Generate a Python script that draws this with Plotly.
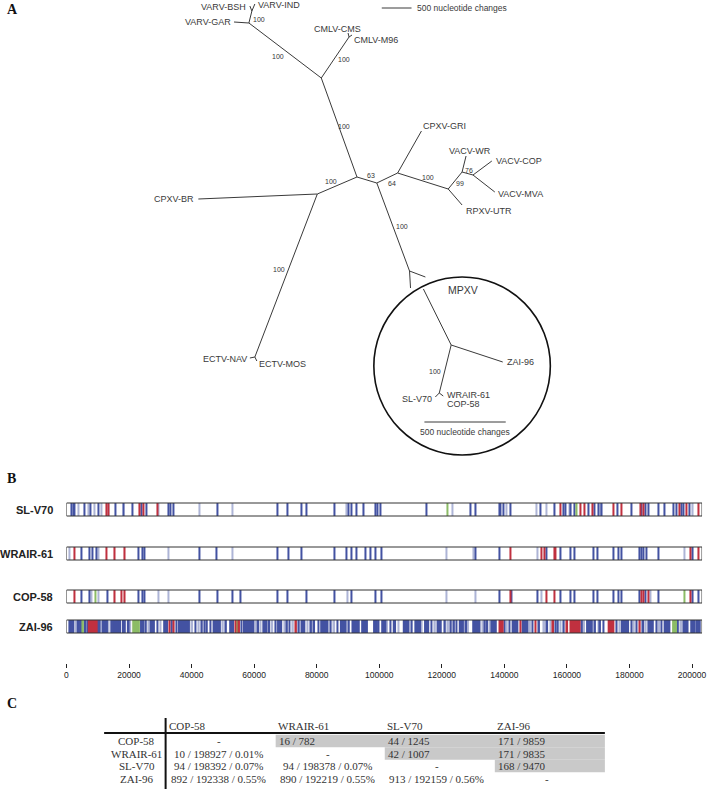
import plotly.graph_objects as go

W, H = 712, 789

# ---------------- A: unrooted tree, node layout ----------------
node_names = ["varv", "varv_f", "bsh", "ind", "gar", "a", "cmlv", "cms", "m96",
              "b", "c", "br", "ectv", "nav", "mos", "d", "e", "gri", "f", "g",
              "wr", "h", "cop", "mva", "utr", "mpxv", "mp1", "mp2", "mpin",
              "i", "zai", "j", "slv", "wra"]
node_x = [249, 252, 250, 255, 234, 322, 350, 349, 353,
          358, 318, 198, 255, 250, 257, 378, 399, 423, 450, 464,
          468, 475, 494, 497, 464, 411, 427, 412, 425,
          453, 505, 441, 437, 445]
node_y = [23, 11, 6, 4, 22, 78, 37, 33, 35,
          177, 194, 199, 357, 358, 361, 183, 173, 131, 189, 172,
          156, 175, 161, 192, 205, 271, 277, 288, 289,
          345, 362, 393, 397, 396]
edges = [("varv", "varv_f"), ("varv_f", "bsh"), ("varv_f", "ind"), ("varv", "gar"),
         ("a", "varv"), ("a", "cmlv"), ("cmlv", "cms"), ("cmlv", "m96"),
         ("b", "a"), ("b", "c"), ("c", "br"), ("c", "ectv"), ("ectv", "nav"),
         ("ectv", "mos"), ("b", "d"), ("d", "e"), ("e", "gri"), ("e", "f"),
         ("f", "g"), ("g", "wr"), ("g", "h"), ("h", "cop"), ("h", "mva"),
         ("f", "utr"), ("d", "mpxv"), ("mpxv", "mp1"), ("mpxv", "mp2"),
         ("mpin", "i"), ("i", "zai"), ("i", "j"), ("j", "slv"), ("j", "wra")]

tip_text = ["VARV-BSH", "VARV-IND", "VARV-GAR", "CMLV-CMS", "CMLV-M96", "CPXV-BR",
            "ECTV-NAV", "ECTV-MOS", "CPXV-GRI", "VACV-WR", "VACV-COP", "VACV-MVA",
            "RPXV-UTR", "ZAI-96", "SL-V70", "WRAIR-61", "COP-58"]
tip_x = [248, 256, 233, 364, 353, 196, 249, 257, 423, 449, 496, 498, 466, 507, 436, 447, 447]
tip_y = [7, 5, 22, 29, 40, 199, 359, 364, 126, 151, 161, 194, 211, 362, 399, 395, 404]
tip_side = ["right", "left", "right", "right", "left", "right", "right", "left", "left",
            "left", "left", "left", "left", "left", "right", "left", "left"]

boot_text = ["100", "100", "100", "100", "100", "100", "100", "100", "100",
             "63", "64", "99", "76"]
boot_x = [259, 278, 345, 345, 332, 279, 430, 403, 437, 372, 393, 462, 471]
boot_y = [19, 56, 59, 126, 181, 269, 177, 226, 371, 175, 183, 183, 170]

# ---------------- B: variant positions along the genome (kb) ----------------
genome_kb = 203.2
axis_ticks = [0, 20000, 40000, 60000, 80000, 100000, 120000, 140000, 160000, 180000, 200000]
tracks = ["SL-V70", "WRAIR-61", "COP-58", "ZAI-96"]

slv70_blue = [1.6, 2.2, 2.5, 5.7, 7.6, 10.1, 15.8, 18.4, 21.2, 24.1, 25.7, 32.6, 33.3, 34.2,
              48.2, 67.5, 70.7, 75.1, 76.7, 85.6, 90.3, 91.0, 92.6, 95.1, 98.9, 99.5, 100.5,
              115.1, 129.3, 130.9, 138.5, 138.8, 139.8, 142.0, 151.5, 155.9, 158.8, 159.4,
              161.3, 162.3, 167.0, 168.9, 170.2, 171.2, 176.2, 180.7, 183.8, 185.1, 186.1,
              189.2, 191.1, 194.0, 194.9, 196.5, 197.2, 199.1]
slv70_light = [3.8, 7.0, 8.9, 11.1, 13.6, 29.5, 42.5, 53.2, 89.4, 123.3, 140.7, 150.2,
               153.4, 160.7, 170.8, 200.3]
slv70_red = [12.7, 13.3, 23.5, 24.7, 29.2, 157.8, 164.2, 165.5, 168.3, 175.0, 177.5, 183.5,
             184.5, 195.9, 198.1, 202.2]
slv70_green = [121.7, 163.2]

wrair61_blue = [4.8, 7.3, 8.2, 9.5, 23.1, 24.4, 25.0, 42.5, 47.9, 67.5, 71.0, 75.1, 85.6,
                89.4, 91.0, 92.6, 95.7, 97.3, 98.9, 100.8, 130.9, 138.5, 153.4, 157.8,
                161.0, 162.3, 168.6, 169.9, 175.0, 176.6, 177.5, 183.2, 183.8, 184.5,
                185.4, 189.2, 200.3]
wrair61_light = [1.0, 10.1, 32.6, 53.2, 121.4, 130.0, 150.6, 197.5]
wrair61_red = [2.5, 12.7, 15.5, 18.7, 142.0, 151.8, 152.8, 155.9, 156.3, 199.4, 202.2]
wrair61_green = []

cop58_blue = [4.8, 7.3, 13.0, 23.1, 24.4, 25.0, 42.5, 48.2, 53.2, 55.5, 67.5, 70.7, 76.7,
              85.6, 91.0, 98.9, 100.8, 138.5, 142.3, 150.6, 157.8, 161.0, 162.3, 168.6,
              169.9, 175.0, 176.6, 177.5, 183.2, 185.1, 189.2, 200.3, 202.2]
cop58_light = [7.9, 10.1, 29.5, 32.6, 89.7, 121.4, 130.9, 151.8, 186.7]
cop58_red = [2.5, 15.5, 17.7, 18.7, 142.0, 153.4, 155.9, 183.8, 184.5, 186.1, 199.4]
cop58_green = [9.2, 197.5]

# ZAI-96 is dense: (start, end) in kb
zai96_blue = [(0.9, 1.4), (1.6, 2.2), (3.5, 3.9), (4.3, 4.8), (5.8, 6.1), (6.7, 6.7),
              (10.0, 10.6), (11.6, 13.0), (14.3, 14.6), (15.1, 16.6), (17.2, 17.2),
              (18.0, 18.7), (19.6, 19.9), (23.8, 24.6), (25.4, 25.4), (26.9, 28.0),
              (29.1, 29.1), (31.2, 32.2), (33.7, 33.7), (35.2, 35.2), (35.9, 38.6),
              (39.2, 39.2), (41.2, 41.2), (43.3, 43.3), (44.1, 44.1), (44.9, 44.9),
              (46.0, 46.0), (47.0, 49.1), (51.0, 51.0), (52.3, 53.3), (56.0, 56.0),
              (56.7, 59.7), (61.3, 61.3), (62.9, 63.9), (64.8, 64.8), (66.9, 66.9),
              (67.6, 68.7), (70.5, 70.5), (71.3, 71.3), (74.3, 74.3), (75.1, 76.1),
              (78.2, 78.2), (79.2, 79.2), (80.6, 80.6), (81.4, 83.5), (84.5, 84.5),
              (86.6, 86.6), (87.7, 89.3), (90.3, 90.3), (91.4, 93.5), (94.5, 96.1),
              (98.3, 99.3), (99.8, 99.8), (100.9, 102.0), (103.6, 103.6), (104.6, 105.1),
              (107.8, 109.4), (110.4, 110.4), (111.5, 113.1), (114.6, 115.7), (116.7, 116.7),
              (118.6, 119.7), (121.0, 121.0), (122.9, 122.9), (123.9, 123.9), (124.7, 124.7),
              (125.7, 126.8), (127.8, 127.8), (130.0, 132.1), (133.7, 133.7), (134.5, 134.5),
              (135.8, 137.3), (140.0, 140.0), (141.6, 141.6), (142.6, 144.2), (145.8, 147.4),
              (149.0, 149.0), (151.1, 151.1), (153.7, 153.7), (156.4, 156.4), (157.1, 157.1),
              (159.0, 159.0), (164.8, 164.8), (166.4, 168.0), (169.0, 169.0), (170.6, 170.6),
              (171.7, 171.7), (175.9, 175.9), (177.5, 179.6), (180.6, 180.6), (182.3, 182.3),
              (184.4, 184.4), (186.0, 187.5), (188.6, 188.6), (190.2, 190.2), (191.2, 192.8),
              (195.5, 195.5), (197.2, 198.6), (199.7, 200.7), (201.3, 202.5)]
zai96_light = [(2.9, 2.9), (11.1, 11.1), (13.5, 13.5), (20.4, 20.4), (26.4, 26.4),
               (30.1, 30.1), (40.2, 40.2), (42.3, 42.3), (50.0, 50.0), (60.3, 60.3),
               (62.0, 62.0), (65.8, 65.8), (69.7, 69.7), (72.4, 72.4), (77.1, 77.1),
               (85.6, 85.6), (92.5, 92.5), (102.5, 102.5), (106.2, 106.2), (113.6, 113.6),
               (117.8, 117.8), (122.0, 122.0), (128.4, 128.4), (133.1, 133.1), (135.2, 135.2),
               (140.8, 140.8), (148.2, 148.2), (152.7, 152.7), (154.8, 154.8), (157.9, 157.9),
               (165.5, 165.5), (170.1, 170.1), (176.8, 176.8), (181.4, 181.4), (185.2, 185.2),
               (189.5, 189.5), (196.5, 196.5)]
zai96_red = [(7.1, 9.7), (32.9, 32.9), (34.3, 34.3), (54.0, 54.0), (55.2, 55.2),
             (73.4, 73.4), (138.4, 139.5), (145.1, 145.1), (150.0, 150.0), (155.6, 155.6),
             (160.1, 160.1), (161.1, 164.1), (173.3, 174.9), (183.3, 183.3)]
zai96_green = [(5.3, 5.3), (21.3, 23.2), (54.6, 54.6), (193.9, 194.9)]

# ---------------- C: pairwise differences table ----------------
strains = ["COP-58", "WRAIR-61", "SL-V70", "ZAI-96"]
cells = [["-", "16 / 782", "44 / 1245", "171 / 9859"],
         ["10 / 198927 / 0.01%", "-", "42 / 1007", "171 / 9835"],
         ["94 / 198392 / 0.07%", "94 / 198378 / 0.07%", "-", "168 / 9470"],
         ["892 / 192338 / 0.55%", "890 / 192219 / 0.55%", "913 / 192159 / 0.56%", "-"]]

# ======================================================================
SANS = "Liberation Sans, Arial, sans-serif"
SERIF = "Liberation Serif, Times New Roman, serif"
LINE = "#3a3a3a"
KIND_COLORS = {"blue": "#4352a2", "light": "#adb4d6", "red": "#c0303f", "green": "#8cbc66"}

fig = go.Figure()
ann = []
shapes = []

# tree branches
pos = {n: (x, y) for n, x, y in zip(node_names, node_x, node_y)}
ex, ey = [], []
for a, b in edges:
    ex += [pos[a][0], pos[b][0], None]
    ey += [pos[a][1], pos[b][1], None]
fig.add_trace(go.Scatter(x=ex, y=ey, mode="lines", line=dict(color=LINE, width=1),
                         hoverinfo="skip", showlegend=False, cliponaxis=False))

for t, x, y, s in zip(tip_text, tip_x, tip_y, tip_side):
    ann.append(dict(x=x, y=y, text=t, xanchor=s, yanchor="middle", showarrow=False,
                    font=dict(family=SANS, size=9, color=LINE)))
for t, x, y in zip(boot_text, boot_x, boot_y):
    ann.append(dict(x=x, y=y, text=t, xanchor="center", yanchor="middle", showarrow=False,
                    font=dict(family=SANS, size=7, color="#333")))
ann.append(dict(x=465, y=290, text="MPXV", showarrow=False, xanchor="center",
                yanchor="middle", font=dict(family=SANS, size=10.5, color=LINE)))

# scale bars
fig.add_trace(go.Scatter(x=[383, 413, None, 426, 508], y=[8, 8, None, 422, 422], mode="lines",
                         line=dict(color=LINE, width=1), hoverinfo="skip", showlegend=False))
ann.append(dict(x=417, y=8, text="500 nucleotide changes", xanchor="left", yanchor="middle",
                showarrow=False, font=dict(family=SANS, size=8.5, color=LINE)))
ann.append(dict(x=467, y=432, text="500 nucleotide changes", xanchor="center", yanchor="middle",
                showarrow=False, font=dict(family=SANS, size=8.5, color=LINE)))
shapes.append(dict(type="circle", xref="x", yref="y", x0=375, x1=553, y0=277, y1=455,
                   line=dict(color="#111", width=1.6)))

# panel letters
for letter, y in [("A", 9), ("B", 478), ("C", 703)]:
    ann.append(dict(x=3, y=y, text="<b>%s</b>" % letter, xanchor="left", yanchor="middle",
                    showarrow=False, font=dict(family=SERIF, size=14, color="#111")))

# ---- B tracks
track_top = [503, 547, 590, 620]
track_h = 13
track_data = [
    {"blue": slv70_blue, "light": slv70_light, "red": slv70_red, "green": slv70_green},
    {"blue": wrair61_blue, "light": wrair61_light, "red": wrair61_red, "green": wrair61_green},
    {"blue": cop58_blue, "light": cop58_light, "red": cop58_red, "green": cop58_green},
]
for top, data in zip(track_top[:3], track_data):
    for kind in ["light", "blue", "green", "red"]:
        p = data[kind]
        if not p:
            continue
        fig.add_trace(go.Bar(x=[v * 1000 for v in p], y=[track_h] * len(p), base=[top] * len(p),
                             width=[360] * len(p), xaxis="x2", yaxis="y",
                             marker=dict(color=KIND_COLORS[kind], line=dict(width=0)),
                             hoverinfo="skip", showlegend=False))

zai = {"light": zai96_light, "blue": zai96_blue, "green": zai96_green, "red": zai96_red}
for kind in ["light", "blue", "green", "red"]:
    seg = zai[kind]
    cx = [(s + e) / 2 * 1000 for s, e in seg]
    wd = [max((e - s) * 1000, 0) + 550 for s, e in seg]
    fig.add_trace(go.Bar(x=cx, y=[track_h] * len(seg), base=[track_top[3]] * len(seg),
                         width=wd, xaxis="x2", yaxis="y",
                         marker=dict(color=KIND_COLORS[kind], line=dict(width=0)),
                         hoverinfo="skip", showlegend=False))

for name, top in zip(tracks, track_top):
    shapes.append(dict(type="rect", xref="x2", yref="y", x0=0, x1=genome_kb * 1000,
                       y0=top, y1=top + track_h, line=dict(color="#333", width=1),
                       layer="above"))
    ann.append(dict(x=53, y=top + track_h / 2, text="<b>%s</b>" % name, xanchor="right",
                    yanchor="middle", showarrow=False,
                    font=dict(family=SANS, size=11, color="#222")))

# ---- C table
col_left = [166, 276, 386, 497]
col_w = 111
row_y = [741, 753.5, 766, 778.5]
row_h = 12.5
table_right = 608
tfont = dict(family=SERIF, size=11, color="#333")
for j, s in enumerate(strains):
    ann.append(dict(x=col_left[j], y=726, text=s, xanchor="left", yanchor="middle",
                    showarrow=False, font=tfont))
for i, s in enumerate(strains):
    ann.append(dict(x=136, y=row_y[i], text=s, xanchor="center", yanchor="middle",
                    showarrow=False, font=tfont))
    if i < 3:
        shapes.append(dict(type="rect", xref="x", yref="y", x0=col_left[i + 1], x1=table_right,
                           y0=row_y[i] - row_h / 2, y1=row_y[i] + row_h / 2,
                           fillcolor="#c9c9c9", line=dict(width=0), layer="below"))
    for j in range(4):
        if j > i:
            ann.append(dict(x=col_left[j] + 1, y=row_y[i], text=cells[i][j], xanchor="left",
                            yanchor="middle", showarrow=False, font=tfont))
        else:
            ann.append(dict(x=col_left[j] + col_w / 2 - 3, y=row_y[i], text=cells[i][j],
                            xanchor="center", yanchor="middle", showarrow=False, font=tfont))
shapes.append(dict(type="line", xref="x", yref="y", x0=165, x1=165, y0=718, y1=789,
                   line=dict(color="#111", width=2)))
shapes.append(dict(type="line", xref="x", yref="y", x0=103, x1=table_right, y0=733, y1=733,
                   line=dict(color="#111", width=2)))

fig.update_layout(
    width=W, height=H, margin=dict(l=0, r=0, t=0, b=0, pad=0),
    paper_bgcolor="white", plot_bgcolor="rgba(0,0,0,0)", barmode="overlay",
    xaxis=dict(range=[0, W], domain=[0, 1], visible=False, fixedrange=True),
    yaxis=dict(range=[H, 0], domain=[0, 1], visible=False, fixedrange=True),
    xaxis2=dict(range=[0, genome_kb * 1000], domain=[65 / W, 706 / W], anchor="free",
                position=1 - 663 / H, showgrid=False, zeroline=False, showline=False,
                ticks="outside", ticklen=4, tickwidth=1, tickcolor="#222",
                tickvals=axis_ticks, ticktext=[str(t) for t in axis_ticks],
                tickfont=dict(family=SANS, size=8.5, color="#222"), fixedrange=True),
    annotations=ann, shapes=shapes, showlegend=False,
)

fig.write_html("out.html", config={"displayModeBar": False},
               post_script="document.body.style.margin='0px';")
